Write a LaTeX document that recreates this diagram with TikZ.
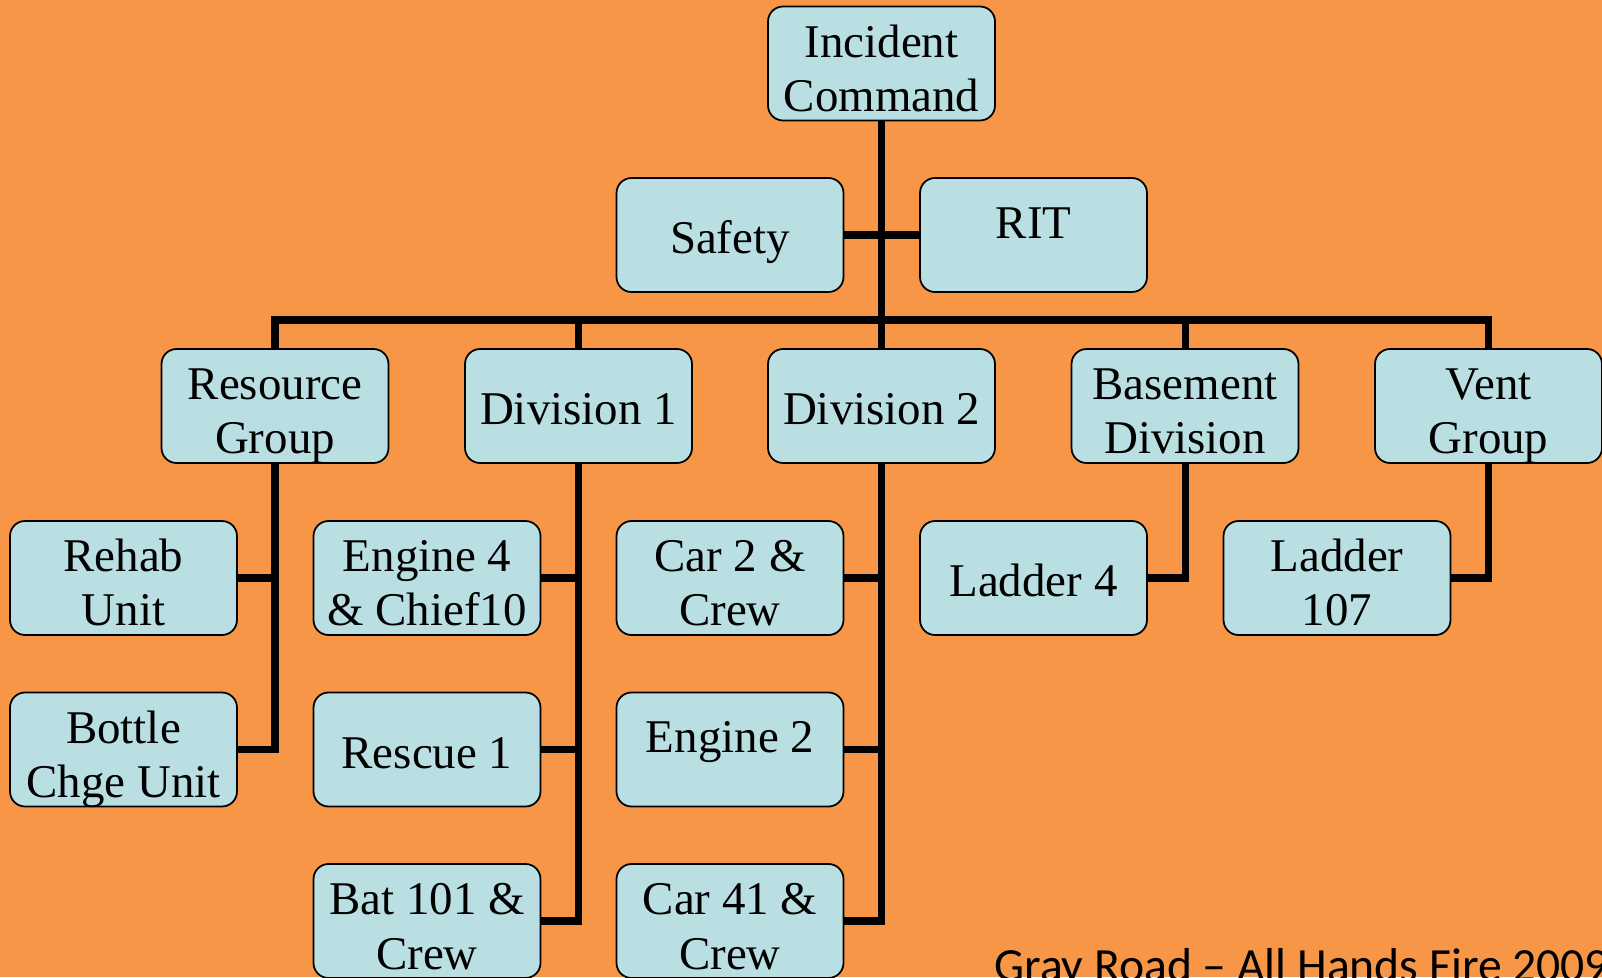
\documentclass[tikz,border=0pt]{standalone}
\usepackage{fontspec}
\setmainfont{Liberation Serif}
\newfontfamily\footerfont{Carlito}
\usepackage{tikz}
\usetikzlibrary{
  calc,
  positioning,
}
\definecolor{slideorange}{RGB}{247, 150, 70}
\definecolor{boxblue}{RGB}{185, 223, 227}
\tikzstyle{unit} = [
  draw=black,
  line width=1pt,
  fill=boxblue,
  rounded corners=0.3cm,
  minimum width=4.54cm,
  minimum height=2.28cm,
  inner sep=0pt,
  align=center,
  font=\fontsize{26.7}{31}\selectfont,
]
\tikzstyle{twoline} = [unit, text height=1.92cm, text depth=0pt]
\tikzstyle{oneline} = [unit, text height=0.74cm, text depth=0pt]
\tikzstyle{highline} = [unit, text height=0.12cm, text depth=0pt]
\tikzstyle{link} = [line width=4pt, black]

\begin{document}
\begin{tikzpicture}[x=0.02cm, y=-0.02cm]

        \useasboundingbox (0,0) rectangle (1602,977);
        \fill [slideorange] (0,0) rectangle (1602,977);

        % Command staff
        \node [twoline] (ic) at (881.5, 63.5) {Incident\\Command};
        \node [oneline] (safety) at (730, 235) {Safety};
        \node [highline] (rit) at (1033.5, 235) {RIT};

        % Divisions and groups
        \node [twoline] (rg) at (275, 406) {Resource\\Group};
        \node [oneline] (d1) at (578.5, 406) {Division 1};
        \node [oneline] (d2) at (881.5, 406) {Division 2};
        \node [twoline] (bd) at (1185, 406) {Basement\\Division};
        \node [twoline] (vg) at (1488.5, 406) {Vent\\Group};

        % Companies
        \node [twoline] (rehab) at (123.5, 578) {Rehab\\Unit};
        \node [twoline] (bottle) at (123.5, 749.5) {Bottle\\Chge Unit};

        \node [twoline] (eng4) at (427, 578) {Engine 4\\\& Chief10};
        \node [oneline] (res1) at (427, 749.5) {Rescue 1};
        \node [twoline] (bat101) at (427, 921) {Bat 101 \&\\Crew};

        \node [twoline] (car2) at (730, 578) {Car 2 \&\\Crew};
        \node [highline] (eng2) at (730, 749.5) {Engine 2};
        \node [twoline] (car41) at (730, 921) {Car 41 \&\\Crew};

        \node [oneline] (lad4) at (1033.5, 578) {Ladder 4};
        \node [twoline] (lad107) at (1337, 578) {Ladder\\107};

        % Lines of command
        \coordinate (bus) at (881.5, 320);
        \draw [link] (ic.south) -- (d2.north);
        \draw [link] (safety.east) -- (rit.west);
        \draw [link] (rg.north) |- (bus) -| (vg.north);
        \draw [link] (d1.north) -- (d1.north |- bus);
        \draw [link] (bd.north) -- (bd.north |- bus);

        \draw [link] (rg.south) |- (rehab.east);
        \draw [link] (rg.south) |- (bottle.east);
        \draw [link] (d1.south) |- (eng4.east);
        \draw [link] (d1.south) |- (res1.east);
        \draw [link] (d1.south) |- (bat101.east);
        \draw [link] (d2.south) |- (car2.east);
        \draw [link] (d2.south) |- (eng2.east);
        \draw [link] (d2.south) |- (car41.east);
        \draw [link] (bd.south) |- (lad4.east);
        \draw [link] (vg.south) |- (lad107.east);

        \node [anchor=base west, inner sep=0pt,
               font=\footerfont\fontsize{27.1}{30}\selectfont]
              (caption) at (994, 981) {Gray Road – All Hands Fire 2009};
      \end{tikzpicture}
\end{document}
